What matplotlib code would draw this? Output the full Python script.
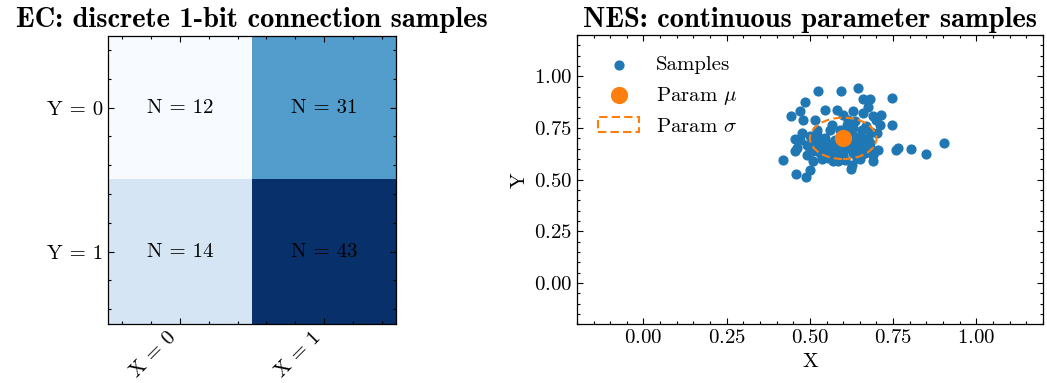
import numpy as np
import matplotlib
matplotlib.use("Agg")
import matplotlib.pyplot as plt
from matplotlib.patches import Ellipse
from matplotlib.ticker import AutoMinorLocator

plt.rcParams['font.family'] = 'cmr10'
plt.rcParams['mathtext.fontset'] = 'cm'
plt.rcParams['axes.formatter.use_mathtext'] = True
plt.rcParams['axes.unicode_minus'] = False

# EC counts (rows: Y, cols: X) and the cell shading (target probabilities)
counts = np.array([[12, 31],
                   [14, 43]])
cell_probs = np.array([[0.10, 0.30],
                       [0.16, 0.45]])
x_labels = ["X = 0", "X = 1"]
y_labels = ["Y = 0", "Y = 1"]

# NES samples
sample_x = [0.525, 0.592, 0.645, 0.747, 0.485, 0.66, 0.68, 0.675, 0.442, 0.47,
            0.48, 0.545, 0.582, 0.60, 0.63, 0.66, 0.69, 0.713, 0.515, 0.70,
            0.747, 0.475, 0.455, 0.50, 0.702, 0.46, 0.455, 0.42, 0.49, 0.51,
            0.50, 0.458, 0.488, 0.76, 0.765, 0.805, 0.85, 0.903, 0.705, 0.69,
            0.69, 0.625, 0.622, 0.57, 0.585, 0.555, 0.53, 0.545, 0.57, 0.56,
            0.59, 0.63, 0.655, 0.67, 0.65, 0.675, 0.66, 0.615, 0.63, 0.665,
            0.64, 0.515, 0.53, 0.565, 0.615, 0.635, 0.575, 0.59, 0.51, 0.54,
            0.60, 0.55, 0.68, 0.68, 0.49, 0.525, 0.645, 0.605, 0.63, 0.71,
            0.52, 0.535, 0.56, 0.58, 0.62, 0.64, 0.655, 0.545, 0.605, 0.67,
            0.50, 0.565, 0.595, 0.62, 0.65, 0.47, 0.52, 0.575, 0.61, 0.685]
sample_y = [0.927, 0.931, 0.944, 0.895, 0.876, 0.892, 0.892, 0.852, 0.81, 0.83,
            0.79, 0.835, 0.835, 0.815, 0.83, 0.823, 0.806, 0.815, 0.787, 0.79,
            0.763, 0.726, 0.697, 0.71, 0.726, 0.653, 0.637, 0.597, 0.621, 0.589,
            0.548, 0.529, 0.513, 0.645, 0.653, 0.65, 0.626, 0.677, 0.645, 0.621,
            0.592, 0.573, 0.552, 0.589, 0.589, 0.605, 0.661, 0.669, 0.661, 0.742,
            0.742, 0.75, 0.742, 0.758, 0.71, 0.702, 0.669, 0.653, 0.629, 0.629,
            0.605, 0.677, 0.629, 0.766, 0.79, 0.782, 0.694, 0.685, 0.637, 0.629,
            0.621, 0.645, 0.677, 0.653, 0.669, 0.694, 0.694, 0.726, 0.71, 0.766,
            0.72, 0.60, 0.675, 0.64, 0.68, 0.66, 0.625, 0.70, 0.595, 0.64,
            0.65, 0.615, 0.66, 0.715, 0.60, 0.69, 0.74, 0.61, 0.765, 0.73]
mu = (0.6, 0.7)
sigma = (0.1, 0.1)


def style_axes(ax, minor=5):
    ax.tick_params(which='both', direction='in', top=True, right=True, width=0.8)
    ax.tick_params(which='major', length=4.5)
    ax.tick_params(which='minor', length=2.2)
    ax.xaxis.set_minor_locator(AutoMinorLocator(minor))
    ax.yaxis.set_minor_locator(AutoMinorLocator(minor))
    for sp in ax.spines.values():
        sp.set_linewidth(0.9)


fig = plt.figure(figsize=(10.47, 3.83), dpi=100)

# left: heatmap
ax1 = fig.add_axes([0.1032, 0.155, 0.2751, 0.752])
ax1.imshow(cell_probs, cmap='Blues', aspect='auto')
for i in range(counts.shape[0]):
    for j in range(counts.shape[1]):
        ax1.text(j, i, f"N = {counts[i, j]}", ha='center', va='center',
                 fontsize=15, color='black')
ax1.set_xticks(range(len(x_labels)))
ax1.set_xticklabels(x_labels, rotation=45, ha='right')
ax1.set_yticks(range(len(y_labels)))
ax1.set_yticklabels(y_labels)
style_axes(ax1)
ax1.tick_params(labelsize=15)
ax1.set_title("EC: discrete 1-bit connection samples", fontfamily='cmb10',
              fontsize=20.5, pad=6)

# right: scatter
ax2 = fig.add_axes([0.551, 0.153, 0.4451, 0.7556])
ax2.scatter(sample_x, sample_y, s=40, color='C0', label='Samples', zorder=2)
ax2.scatter([mu[0]], [mu[1]], s=130, color='C1', label=r'Param $\mu$', zorder=3)
ell = Ellipse(mu, 2 * sigma[0], 2 * sigma[1], fill=False, edgecolor='C1',
              linestyle=(0, (4, 2)), linewidth=1.5, label=r'Param $\sigma$',
              zorder=3)
ax2.add_patch(ell)
ax2.set_xlim(-0.2, 1.2)
ax2.set_ylim(-0.2, 1.2)
ax2.set_xticks([0, 0.25, 0.5, 0.75, 1.0])
ax2.set_yticks([0, 0.25, 0.5, 0.75, 1.0])
style_axes(ax2)
ax2.tick_params(labelsize=15)
ax2.set_xlabel("X", fontsize=15)
ax2.set_ylabel("Y", fontsize=15)
ax2.legend(loc='upper left', frameon=False, fontsize=15, scatterpoints=1,
           handlelength=2.0, borderaxespad=0.6)
ax2.set_title("NES: continuous parameter samples", fontfamily='cmb10',
              fontsize=20.5, pad=6)

fig.savefig("out.png", dpi=100)
